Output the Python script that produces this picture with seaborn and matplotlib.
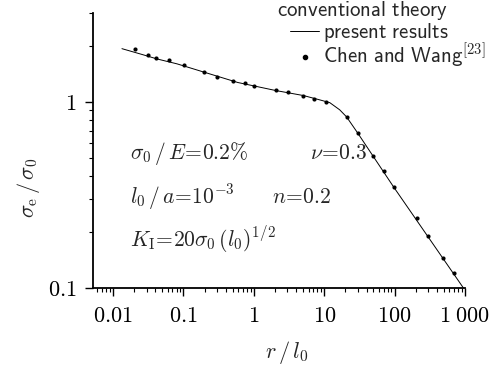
import matplotlib
matplotlib.use("Agg")
import matplotlib.pyplot as plt
import matplotlib.ticker as mticker
from matplotlib.lines import Line2D
import numpy as np
import pandas as pd
import seaborn as sns

# present results (solid curve)
r_present = [0.0134, 0.0267, 0.0421, 0.0809, 0.189, 0.593, 2.05, 5.12, 8.6,
             12.0, 16.6, 20.8, 29.9, 96.8, 950.0]
s_present = [1.93, 1.79, 1.70, 1.60, 1.45, 1.27, 1.15, 1.08, 1.025,
             0.99, 0.906, 0.83, 0.68, 0.349, 0.100]

# Chen and Wang (dots)
r_chen = [0.0205, 0.0314, 0.0407, 0.0623, 0.1016, 0.195, 0.299, 0.504, 0.745,
          1.0, 2.05, 3.03, 4.95, 7.1, 10.5, 20.8, 29.9, 48.7, 69.8, 96.8,
          205.0, 294.0, 480.0, 687.0]
s_chen = [1.93, 1.79, 1.72, 1.68, 1.58, 1.45, 1.36, 1.30, 1.26,
          1.22, 1.16, 1.13, 1.08, 1.04, 1.00, 0.83, 0.68, 0.513, 0.426, 0.349,
          0.238, 0.19, 0.145, 0.12]

x_ticks = [0.01, 0.1, 1, 10, 100, 1000]
x_tick_labels = ["0.01", "0.1", "1", "10", "100", r"1\;000"]
y_ticks = [0.1, 1]
y_tick_labels = ["0.1", "1"]

sns.set_theme(style="ticks")
plt.rcParams["mathtext.fontset"] = "cm"
plt.rcParams["font.family"] = ["DejaVu Serif"]

fig = plt.figure(figsize=(4.99, 3.74), dpi=100)
ax = fig.add_axes([93 / 499, 1 - 288 / 374, (465 - 93) / 499, (288 - 13) / 374])

df_line = pd.DataFrame({"r": r_present, "s": s_present})
df_pts = pd.DataFrame({"r": r_chen, "s": s_chen})

sns.lineplot(data=df_line, x="r", y="s", ax=ax, color="black", lw=0.7,
             sort=False, legend=False)
sns.scatterplot(data=df_pts, x="r", y="s", ax=ax, color="black", s=9,
                linewidth=0, legend=False)

ax.set_xscale("log")
ax.set_yscale("log")
ax.set_xlim(0.0052, 1000)
ax.set_ylim(0.1, 3.0)

for side in ("top", "right"):
    ax.spines[side].set_visible(False)
for side in ("left", "bottom"):
    ax.spines[side].set_linewidth(1.3)
    ax.spines[side].set_color("black")

ax.xaxis.set_major_locator(mticker.FixedLocator(x_ticks))
ax.xaxis.set_major_formatter(mticker.FixedFormatter([f"${t}$" for t in x_tick_labels]))
ax.xaxis.set_minor_locator(mticker.LogLocator(base=10, subs=np.arange(2, 10)))
ax.xaxis.set_minor_formatter(mticker.NullFormatter())
ax.yaxis.set_major_locator(mticker.FixedLocator(y_ticks))
ax.yaxis.set_major_formatter(mticker.FixedFormatter([f"${t}$" for t in y_tick_labels]))
ax.yaxis.set_minor_locator(mticker.LogLocator(base=10, subs=np.arange(2, 10)))
ax.yaxis.set_minor_formatter(mticker.NullFormatter())

ax.tick_params(which="major", direction="out", length=6, width=1.0,
               colors="black", labelsize=16, pad=6)
ax.tick_params(which="minor", direction="out", length=3, width=0.8, colors="black")

ax.set_xlabel(r"$r\,/\,l_0$", fontsize=16)
ax.set_ylabel(r"$\sigma_\mathrm{e}\,/\,\sigma_0$", fontsize=16)
ax.xaxis.set_label_coords((287 - 93) / (465 - 93), -(352 - 288) / (288 - 13))
ax.yaxis.set_label_coords(-(93 - 28) / (465 - 93), (288 - 188) / (288 - 13))
ax.xaxis.label.set_va("center")
ax.yaxis.label.set_va("center")

# parameter annotations
tkw = dict(transform=fig.transFigure, fontsize=15.5, va="center", ha="left")
fig.text(130 / 499, 1 - 153 / 374, r"$\sigma_0\,/\,E\!=\!0.2\%$", **tkw)
fig.text(310 / 499, 1 - 153 / 374, r"$\nu\!=\!0.3$", **tkw)
fig.text(130 / 499, 1 - 197 / 374, r"$l_0\,/\,a\!=\!10^{-3}$", **tkw)
fig.text(272 / 499, 1 - 197 / 374, r"$n\!=\!0.2$", **tkw)
fig.text(130 / 499, 1 - 240 / 374, r"$K_\mathrm{I}\!=\!20\sigma_0\,(l_0)^{1/2}$", **tkw)

# legend: heading line, then the two entries
fig.text(277 / 499, 1 - 11 / 374, r"$\mathsf{conventional\ theory}$",
         fontsize=15, ha="left", va="center")
handles = [
    Line2D([], [], color="black", lw=0.7),
    Line2D([], [], color="black", ls="none", marker="o", ms=3.0),
]
labels = [r"$\mathsf{present\ results}$",
          r"$\mathsf{Chen\ and\ Wang}^{\mathsf{[23]}}$"]
leg = fig.legend(handles, labels, loc="upper left",
                 bbox_to_anchor=(290 / 499, 1 - 21 / 374), frameon=False,
                 fontsize=15, handlelength=1.4, handletextpad=0.2,
                 labelspacing=-0.08, borderpad=0.0, borderaxespad=0.0)

fig.savefig("out.png", dpi=100)
